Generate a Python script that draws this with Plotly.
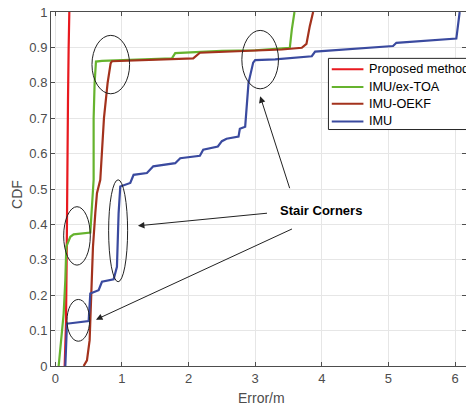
import plotly.graph_objects as go

# ---- data ----
prop_x = [0.14, 0.15, 0.16, 0.17, 0.175, 0.18, 0.19, 0.2, 0.21]
prop_y = [0.0, 0.05, 0.12, 0.3, 0.5, 0.6, 0.75, 0.9, 1.0]

toa_x = [0.05, 0.09, 0.125, 0.15, 0.165, 0.225, 0.275, 0.525, 0.55, 0.575, 0.575, 0.575,
         0.59, 0.61, 0.7, 1.0, 1.5, 1.75, 1.8, 1.9, 2.5, 3.0, 3.4, 3.52, 3.55, 3.59]
toa_y = [0.0, 0.08, 0.148, 0.243, 0.337, 0.365, 0.372, 0.377, 0.469, 0.526, 0.64, 0.7,
         0.8, 0.86, 0.862, 0.864, 0.867, 0.869, 0.884, 0.885, 0.89, 0.892, 0.896, 0.899, 0.95, 1.0]

oekf_x = [0.425, 0.475, 0.515, 0.53, 0.54, 0.565, 0.6, 0.625, 0.675, 0.7, 0.73, 0.785,
          0.83, 0.85, 1.2, 1.6, 2.07, 2.17, 2.8, 3.4, 3.7, 3.77, 3.82, 3.87]
oekf_y = [0.0, 0.016, 0.073, 0.16, 0.243, 0.337, 0.432, 0.488, 0.526, 0.6, 0.7, 0.8,
          0.855, 0.861, 0.863, 0.865, 0.869, 0.885, 0.89, 0.894, 0.899, 0.91, 0.96, 1.0]

imu_x = [0.15, 0.175, 0.2, 0.5, 0.525, 0.65, 0.7, 0.875, 0.925, 0.95, 0.975, 1.125, 1.175,
         1.375, 1.47, 1.6, 1.8, 1.875, 2.17, 2.22, 2.44, 2.5, 2.57, 2.75, 2.77, 2.85, 2.875,
         2.9, 2.97, 3.0, 3.3, 3.85, 3.9, 5.07, 5.12, 6.02, 6.07]
imu_y = [0.0, 0.12, 0.12, 0.127, 0.205, 0.214, 0.238, 0.245, 0.28, 0.432, 0.507, 0.517, 0.54,
         0.545, 0.564, 0.568, 0.573, 0.587, 0.594, 0.611, 0.62, 0.635, 0.642, 0.648, 0.67, 0.676, 0.734,
         0.8, 0.857, 0.864, 0.866, 0.875, 0.888, 0.904, 0.913, 0.925, 1.0]

series_names = ["Proposed method", "IMU/ex-TOA", "IMU-OEKF", "IMU"]
series_colors = ["#e8191f", "#66b32e", "#a3321d", "#3a4a9f"]
x_ticks = [0, 1, 2, 3, 4, 5, 6]
y_ticks = [0, 0.1, 0.2, 0.3, 0.4, 0.5, 0.6, 0.7, 0.8, 0.9, 1]

FONT = "Liberation Sans, Arial, sans-serif"

fig = go.Figure()
for name, xs, ys, col in zip(series_names,
                             [prop_x, toa_x, oekf_x, imu_x],
                             [prop_y, toa_y, oekf_y, imu_y],
                             series_colors):
    fig.add_trace(go.Scatter(x=xs, y=ys, mode="lines", name=name,
                             line=dict(color=col, width=2.2), showlegend=False))

shapes = []
# ellipses
ellipses = [(0.55, 1.115, 0.769, 0.934), (2.8, 3.35, 0.783, 0.948),
            (0.125, 0.525, 0.285, 0.45), (0.8, 1.085, 0.238, 0.526),
            (0.175, 0.515, 0.07, 0.188)]
for x0, x1, y0, y1 in ellipses:
    shapes.append(dict(type="circle", xref="x", yref="y", x0=x0, x1=x1, y0=y0, y1=y1,
                       line=dict(color="#222222", width=1)))

# manual legend box
shapes.append(dict(type="rect", xref="x", yref="y", x0=4.1, x1=7.0, y0=0.668, y1=0.869,
                   fillcolor="white", line=dict(color="#262626", width=1), layer="above"))
leg_y = [0.838, 0.788, 0.741, 0.691]
annotations = []
for name, col, ly in zip(series_names, series_colors, leg_y):
    shapes.append(dict(type="line", xref="x", yref="y", x0=4.15, x1=4.625, y0=ly, y1=ly,
                       line=dict(color=col, width=2), layer="above"))
    annotations.append(dict(x=4.675, y=ly, xref="x", yref="y", text=name, showarrow=False,
                            xanchor="left", yanchor="middle",
                            font=dict(family=FONT, size=12.7, color="#000000")))

# text and arrows
annotations.append(dict(x=3.99, y=0.438, xref="x", yref="y", text="<b>Stair Corners</b>",
                        showarrow=False, font=dict(family=FONT, size=13, color="#000000")))
arrows = [((3.525, 0.498), (3.075, 0.762)),
          ((3.2, 0.432), (1.24, 0.396)),
          ((3.575, 0.389), (0.61, 0.131))]
for (tx, ty), (hx, hy) in arrows:
    annotations.append(dict(x=hx, y=hy, ax=tx, ay=ty, xref="x", yref="y", axref="x", ayref="y",
                            text="", showarrow=True, arrowhead=2, arrowsize=1.3, arrowwidth=1,
                            arrowcolor="#222222"))

# axis titles as annotations (paper coordinates)
annotations.append(dict(x=0.507, y=-0.09, xref="paper", yref="paper", text="Error/m",
                        showarrow=False, xanchor="center", yanchor="middle",
                        font=dict(family=FONT, size=14, color="#4d4d4d")))
annotations.append(dict(x=-0.082, y=0.486, xref="paper", yref="paper", text="CDF",
                        showarrow=False, xanchor="center", yanchor="middle", textangle=-90,
                        font=dict(family=FONT, size=14, color="#4d4d4d")))

fig.update_layout(
    width=466, height=407,
    margin=dict(l=51, r=0, t=12, b=41, autoexpand=False),
    paper_bgcolor="white", plot_bgcolor="white",
    shapes=shapes, annotations=annotations,
    font=dict(family=FONT, size=13, color="#4d4d4d"),
)
fig.update_xaxes(range=[-0.065, 6.165], tickvals=x_ticks, showgrid=True, gridcolor="#e6e6e6",
                 gridwidth=1, zeroline=False, showline=True, linecolor="#4d4d4d", linewidth=1,
                 mirror="ticks", ticks="inside", ticklen=4, tickcolor="#4d4d4d",
                 automargin=False)
fig.update_yaxes(range=[0, 1], tickvals=y_ticks, showgrid=True, gridcolor="#e6e6e6",
                 gridwidth=1, zeroline=False, showline=True, linecolor="#4d4d4d", linewidth=1,
                 mirror="ticks", ticks="inside", ticklen=4, tickcolor="#4d4d4d",
                 automargin=False)

fig.write_html("out.html", config={"displayModeBar": False},
               post_script="document.body.style.margin='0';document.body.style.overflow='hidden';")
